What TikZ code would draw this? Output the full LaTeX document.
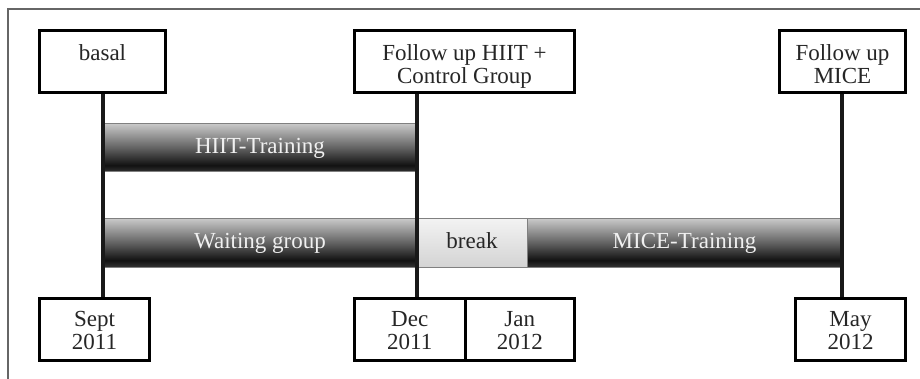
\documentclass[tikz,border=0pt]{standalone}
\usepackage{fontspec}
\setmainfont{Liberation Serif}
\pgfdeclareverticalshading{darkbar}{100bp}{color(0bp)=(black!80); color(25bp)=(black!80); color(32bp)=(black!93); color(50bp)=(black!62); color(75bp)=(black!22); color(100bp)=(black!22)}
\pgfdeclareverticalshading{lightbar}{100bp}{color(0bp)=(black!17); color(25bp)=(black!17); color(75bp)=(black!5); color(100bp)=(black!5)}
\begin{document}
\begin{tikzpicture}[x=1pt,y=-1pt,
  box/.style={draw=black, line width=3pt, fill=white, inner sep=0pt, minimum height=62pt},
  lbl/.style={font=\fontsize{23}{23}\selectfont, align=center, inner sep=0pt, text=black!85, anchor=north},
  bar/.style={draw=black!50, line width=1pt, inner sep=0pt, minimum height=48pt,
              font=\fontsize{23}{23}\selectfont, text height=15.5pt, text depth=5pt},
  darkbarstyle/.style={bar, shading=darkbar, text=white!94!black},
  lightbarstyle/.style={bar, shading=lightbar, text=black!85},
  vline/.style={line width=4pt, draw=black!90},
  frame/.style={draw=black!60, line width=1.5pt}]
\useasboundingbox (0,0) rectangle (920,379);
% outer frame
\coordinate (fbl) at (8,379);
\coordinate (ftl) at (8,9);
\coordinate (ftr) at (920,9);
\draw[frame] (fbl) -- (ftl) -- (ftr);
% bars
\node[darkbarstyle, minimum width=314pt] (hiit) at (260,148) {HIIT-Training};
\node[darkbarstyle, minimum width=314pt] (wait) at (260,243) {Waiting group};
\node[lightbarstyle, minimum width=110pt] (brk) at (472,243) {break};
\node[darkbarstyle, minimum width=315pt] (mice) at (684.5,243) {MICE-Training};
% boxes
\node[box, minimum width=126pt] (basal) at (102.5,61.5) {};
\node[box, minimum width=220pt] (fuh) at (464.5,61.5) {};
\node[box, minimum width=126pt] (fum) at (842.5,61.5) {};
\node[box, minimum width=110pt] (sept) at (94.5,329.5) {};
\node[box, minimum width=110.5pt] (dec) at (409.75,329.5) {};
\node[box, minimum width=109.5pt] (jan) at (519.75,329.5) {};
\node[box, minimum width=110pt] (may) at (850.5,329.5) {};
% vertical lines
\coordinate (v1) at (103,94);
\coordinate (v2) at (417,94);
\coordinate (v3) at (842,94);
\draw[vline] (v1) -- (v1 |- sept.north);
\draw[vline] (v2) -- (v2 |- dec.north);
\draw[vline] (v3) -- (v3 |- may.north);
% redraw boxes on top of line ends
\node[box, minimum width=126pt] at (basal) {};
\node[box, minimum width=220pt] at (fuh) {};
\node[box, minimum width=126pt] at (fum) {};
\node[box, minimum width=110pt] at (sept) {};
\node[box, minimum width=110.5pt] at (dec) {};
\node[box, minimum width=109.5pt] at (jan) {};
\node[box, minimum width=110pt] at (may) {};
% texts
\node[lbl] (basalt) at (102.5,44.5) {basal};
\node[lbl] (fuht) at (464.5,44.5) {Follow up HIIT +\\Control Group};
\node[lbl] (fumt) at (842.5,44.5) {Follow up\\MICE};
\node[lbl] (septt) at (94.5,311.5) {Sept\\2011};
\node[lbl] (dect) at (409.75,311.5) {Dec\\2011};
\node[lbl] (jant) at (519.75,311.5) {Jan\\2012};
\node[lbl] (mayt) at (850.5,311.5) {May\\2012};
\end{tikzpicture}
\end{document}
